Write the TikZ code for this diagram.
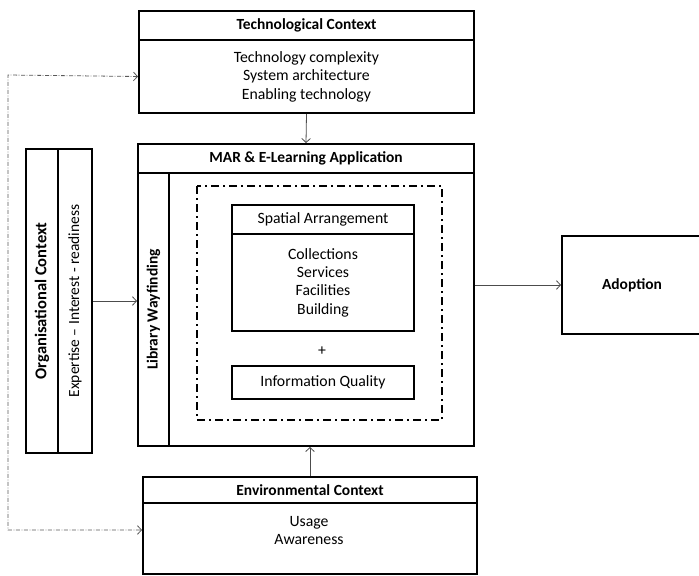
\documentclass[tikz,border=0pt]{standalone}
\usepackage{fontspec}
\setmainfont{Carlito}
\usetikzlibrary{arrows.meta,positioning}
\tikzset{>={Straight Barb[length=3pt,width=6.5pt]},
  box/.style={draw,line width=1.5pt,anchor=north west,inner sep=0pt,align=center},
  boxsize/.style 2 args={minimum width=#1*0.75pt,minimum height=#2*0.75pt},
  head/.style={font=\fontsize{11.6}{13.8}\selectfont\bfseries},
  link/.style={->,draw=black!70,line width=0.6pt},
  dotlink/.style={<->,draw=black!65,line width=0.6pt,
    dash pattern=on 3pt off 1.2pt on 0.6pt off 1.2pt},
  scopebox/.style={line width=1.5pt,dash pattern=on 6pt off 3pt on 1.5pt off 3pt}
}

\begin{document}
\begin{tikzpicture}[x=0.75pt,y=-0.75pt,font=\fontsize{11.8}{13.8}\selectfont]
\useasboundingbox (0,0) rectangle (699,575);

% technological context
\node[box,head,boxsize={335}{29}] (techhead) at (138,10) {Technological Context};
\node[box,boxsize={335}{73}] (techbody) at (138,39)
  {Technology complexity\\System architecture\\Enabling technology};

% application block
\node[box,head,boxsize={336}{29}] (marhead) at (137,143) {MAR \& E-Learning Application};
\node[box,boxsize={31}{273}] (marway) at (137,172) {};
\node[box,boxsize={305}{273}] (marmain) at (168,172) {};
\node[head,rotate=90] at (marway.center) {Library Wayfinding};
\draw[scopebox] (197,186) rectangle (442,420);
\node[box,boxsize={182}{29}] (spathead) at (231,204) {Spatial Arrangement};
\node[box,boxsize={182}{97}] (spatbody) at (231,233)
  {Collections\\Services\\Facilities\\Building};
\node (plus) at (322,351) {+};
\node[box,boxsize={182}{33}] (infoq) at (231,365) {Information Quality};

% organisational context
\node[box,boxsize={32}{304}] (org) at (25,148) {};
\node[box,boxsize={34}{304}] (expert) at (57,148) {};
\node[font=\fontsize{12.4}{14}\selectfont\bfseries,rotate=90] at (org.center)
  {Organisational Context};
\node[font=\fontsize{11.6}{13}\selectfont,rotate=90] at (expert.center)
  {Expertise -- Interest - readiness};

% environmental context
\node[box,head,boxsize={334}{26}] (envhead) at (142,476) {Environmental Context};
\node[box,boxsize={334}{71}] (envbody) at (142,502) {};
\node[align=center] (envtext) at (309,530.5) {Usage\\Awareness};

% outcome
\node[box,head,boxsize={140}{98}] (adopt) at (561,235) {Adoption};

% links
\draw[link] (techbody.south) -- (marhead.north);
\draw[link] (envhead.north) -- (envhead.north |- marmain.south);
\draw[link] (expert.east) -- (marway.west |- expert.east);
\draw[link] (marmain.east |- adopt.west) -- (adopt.west);
\coordinate (dtop) at (8,75);
\coordinate (dbot) at (8,530);
\draw[dotlink] (techbody.west) -- (dtop) -- (dbot) -- (envbody.west |- dbot);
\end{tikzpicture}
\end{document}
